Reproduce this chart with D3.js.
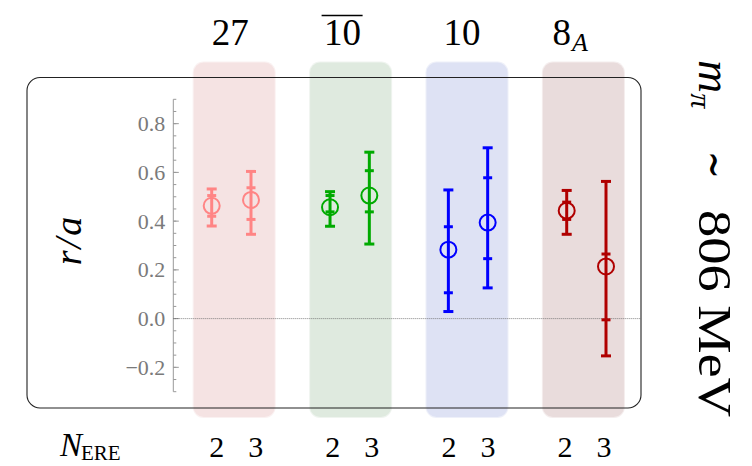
<!DOCTYPE html>
<html><head><meta charset="utf-8">
<script src="https://cdn.jsdelivr.net/npm/d3@7"></script>
<style>body{margin:0;background:#fff}</style>
</head><body>
<script>
// ---- data ----
const groups = ["27", "10bar", "10", "8A"];
const nere = ["2", "3"];
// central values per group, for N_ERE = 2 and 3
const central = [[0.463, 0.487], [0.457, 0.505], [0.283, 0.394], [0.443, 0.214]];
// inner (statistical) error ranges [lo, hi]
const innerLo = [[0.420, 0.407], [0.438, 0.438], [0.106, 0.246], [0.407, -0.005]];
const innerHi = [[0.505, 0.537], [0.505, 0.607], [0.377, 0.578], [0.478, 0.265]];
// outer (total) error ranges [lo, hi]
const outerLo = [[0.380, 0.346], [0.379, 0.306], [0.029, 0.126], [0.346, -0.153]];
const outerHi = [[0.532, 0.604], [0.521, 0.683], [0.528, 0.701], [0.526, 0.563]];
const yTicks = [-0.2, 0.0, 0.2, 0.4, 0.6, 0.8];
const yDomain = [-0.3, 0.9];

const colors = ["#ff8585", "#00aa00", "#0000ff", "#b00000"];
const bandColors = ["#f5e3e3", "#dfeadf", "#dee2f4", "#e9dcdc"];

const W = 752, H = 466;
const svg = d3.select("body").append("svg").attr("width", W).attr("height", H);

const y = d3.scaleLinear().domain(yDomain).range([391.7, 99.3]);
const gx = d3.scaleLinear().domain([0, 3]).range([234.2, 583.4]);   // band centers
const px = d3.scaleLinear().domain([0, 3]).range([211.7, 566.7]);   // first point of group
const ptOff = d3.scaleLinear().domain([0, 1]).range([0, 39.3]);
const lx = d3.scaleLinear().domain([0, 3]).range([216.7, 565]);     // N_ERE labels
const lOff = d3.scaleLinear().domain([0, 1]).range([0, 39]);

// bands (soft edges drawn as two layered rounded rects)
const bandG = svg.append("g");
bandG.selectAll(".b1").data(groups).join("rect")
  .attr("x", (d, i) => gx(i) - 41.5).attr("width", 83)
  .attr("y", 61.5).attr("height", 418 - 61.5)
  .attr("rx", 11).attr("fill", (d, i) => bandColors[i]).attr("opacity", 0.5);
bandG.selectAll(".b2").data(groups).join("rect")
  .attr("x", (d, i) => gx(i) - 40.5).attr("width", 81)
  .attr("y", 62.5).attr("height", 418 - 63.5)
  .attr("rx", 10).attr("fill", (d, i) => bandColors[i]);

// frame
svg.append("rect").attr("x", 27).attr("y", 77.5).attr("width", 641 - 27).attr("height", 408 - 77.5)
  .attr("rx", 13).attr("fill", "none").attr("stroke", "#222").attr("stroke-width", 1.1);

// y axis
const ax = svg.append("g").attr("transform", "translate(173.3,0)");
ax.append("line").attr("y1", y(yDomain[0])).attr("y2", y(yDomain[1])).attr("stroke", "#999").attr("stroke-width", 1);
const minor = d3.range(-0.3, 0.9001, 0.05).map(v => Math.round(v * 100) / 100);
ax.selectAll(".mn").data(minor).join("line")
  .attr("x1", 0).attr("x2", 3).attr("y1", d => y(d)).attr("y2", d => y(d)).attr("stroke", "#999");
ax.selectAll(".mj").data(yTicks).join("line")
  .attr("x1", 0).attr("x2", 5.5).attr("y1", d => y(d)).attr("y2", d => y(d)).attr("stroke", "#999");

// zero line
svg.append("line").attr("x1", 173.3).attr("x2", 641).attr("y1", y(0)).attr("y2", y(0))
  .attr("stroke", "#666").attr("stroke-width", 0.8).attr("stroke-dasharray", "1,1");

// points
const pts = [];
groups.forEach((g, i) => nere.forEach((n, j) => pts.push({i, j})));
const pg = svg.append("g").selectAll("g").data(pts).join("g")
  .attr("transform", d => `translate(${px(d.i) + ptOff(d.j)},0)`)
  .attr("stroke", d => colors[d.i]).attr("fill", "none");
pg.append("line").attr("y1", d => y(outerLo[d.i][d.j])).attr("y2", d => y(outerHi[d.i][d.j])).attr("stroke-width", 3);
const caps = [[outerLo, 10], [outerHi, 10], [innerLo, 9], [innerHi, 9]];
caps.forEach(([arr, w]) => {
  pg.append("line").attr("x1", -w / 2).attr("x2", w / 2)
    .attr("y1", d => y(arr[d.i][d.j])).attr("y2", d => y(arr[d.i][d.j])).attr("stroke-width", 3);
});
pg.append("circle").attr("cy", d => y(central[d.i][d.j])).attr("r", 8).attr("stroke-width", 2);

// ---- all texts ----
function txt(sel) {
  return sel.append("text").style("font-family", '"Liberation Serif", "Times New Roman", Tinos, serif').attr("fill", "#000");
}
// y tick labels
yTicks.forEach(v => {
  txt(svg).attr("x", 165.3).attr("y", y(v)).attr("dy", "0.34em").attr("text-anchor", "end")
    .style("font-size", "22px").attr("fill", "#7a7a7a")
    .text((v < 0 ? "\u2212" : "") + Math.abs(v).toFixed(1));
});

// top group labels
txt(svg).attr("x", gx(0) - 4).attr("y", 45).attr("text-anchor", "middle").style("font-size", "37px").text("27");
txt(svg).attr("x", gx(1) - 8).attr("y", 45).attr("text-anchor", "middle").style("font-size", "37px").text("10");
svg.append("line").attr("x1", gx(1) - 29).attr("x2", gx(1) + 12).attr("y1", 15.5).attr("y2", 15.5).attr("stroke", "#000").attr("stroke-width", 1.6);
txt(svg).attr("x", gx(2) - 5).attr("y", 45).attr("text-anchor", "middle").style("font-size", "37px").text("10");
const t8 = txt(svg).attr("x", gx(3) - 31).attr("y", 45).style("font-size", "37px");
t8.append("tspan").text("8");
t8.append("tspan").style("font-style", "italic").style("font-size", "26px").attr("dy", 6).attr("dx", 1).text("A");

// N_ERE labels
pts.forEach(d => {
  txt(svg).style("font-size", "30px").attr("text-anchor", "middle")
    .attr("x", lx(d.i) + lOff(d.j)).attr("y", 457).text(nere[d.j]);
});
const ne = txt(svg).attr("x", 60).attr("y", 456);
ne.append("tspan").style("font-style", "italic").style("font-size", "33px").text("N");
ne.append("tspan").style("font-size", "21px").attr("dy", 4).attr("dx", -1).text("ERE");

// y label
txt(svg).attr("transform", "translate(81,240) rotate(-90)").attr("text-anchor", "middle")
  .style("font-style", "italic").style("font-size", "38px").style("letter-spacing", "2px").text("r/a");

// right label
const rl = svg.append("g").attr("transform", "translate(699,60) rotate(90)");
const rm = txt(rl).attr("x", 0).attr("y", 0).style("font-size", "46px");
rm.append("tspan").style("font-style", "italic").text("m");
rm.append("tspan").style("font-style", "italic").style("font-size", "30px").attr("dy", 8).text("\u03c0");
txt(rl).attr("x", 91).attr("y", 0).style("font-size", "46px").attr("textLength", 28).attr("lengthAdjust", "spacingAndGlyphs").text("\u223c");
txt(rl).attr("x", 150).attr("y", 0).style("font-size", "46px").attr("textLength", 207).attr("lengthAdjust", "spacingAndGlyphs").text("806 MeV");
</script>
</body></html>
